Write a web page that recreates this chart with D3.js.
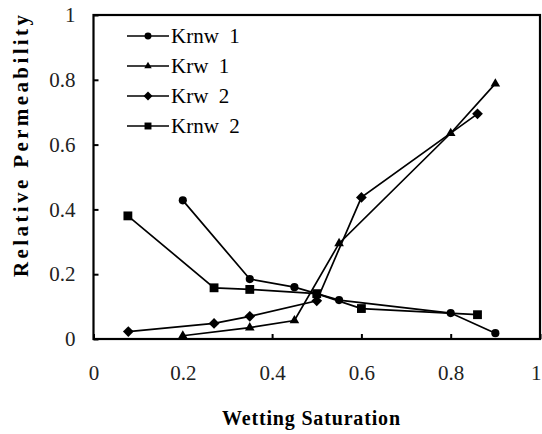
<!DOCTYPE html>
<html>
<head>
<meta charset="utf-8">
<script src="https://cdn.jsdelivr.net/npm/d3@7"></script>
<style>
  body { margin: 0; background: #fff; }
</style>
</head>
<body>
<div id="chart"></div>
<script>
// Data
const krnw1X = [0.2, 0.35, 0.45, 0.55, 0.8, 0.9];
const krnw1Y = [0.428, 0.185, 0.16, 0.12, 0.08, 0.018];
const krw1X = [0.2, 0.35, 0.45, 0.55, 0.8, 0.9];
const krw1Y = [0.01, 0.035, 0.057, 0.295, 0.635, 0.788];
const krw2X = [0.078, 0.27, 0.35, 0.5, 0.6, 0.86];
const krw2Y = [0.023, 0.048, 0.07, 0.118, 0.437, 0.695];
const krnw2X = [0.077, 0.27, 0.35, 0.5, 0.6, 0.86];
const krnw2Y = [0.38, 0.158, 0.153, 0.14, 0.094, 0.075];
const seriesNames = ["Krnw  1", "Krw  1", "Krw  2", "Krnw  2"];
const xTicks = [0, 0.2, 0.4, 0.6, 0.8, 1];
const yTicks = [0, 0.2, 0.4, 0.6, 0.8, 1];

const width = 542, height = 434;
const plotLeft = 93.5, plotRight = 540, plotTop = 15, plotBottom = 339;
const serif = "'Liberation Serif', 'Times New Roman', 'DejaVu Serif', serif";

const svg = d3.select("#chart").append("svg")
    .attr("width", width)
    .attr("height", height)
    .style("font-family", serif);

const x = d3.scaleLinear().domain([0, 1]).range([plotLeft, plotRight]);
const y = d3.scaleLinear().domain([0, 1]).range([plotBottom, plotTop]);

// Axes with inward ticks
const yAxis = svg.append("g")
    .attr("transform", `translate(${plotLeft},0)`)
    .call(d3.axisLeft(y).tickValues(yTicks).tickSize(-5).tickPadding(18)
        .tickFormat(d3.format("~g")));
const xAxis = svg.append("g")
    .attr("transform", `translate(0,${plotBottom})`)
    .call(d3.axisBottom(x).tickValues(xTicks).tickSize(-5).tickPadding(26)
        .tickFormat(d3.format("~g")));

[yAxis, xAxis].forEach(g => {
    g.attr("font-family", null);
    g.select(".domain").remove();
    g.selectAll(".tick line").attr("stroke", "#000").attr("stroke-width", 2);
    g.selectAll(".tick text")
        .style("font-family", serif)
        .attr("font-size", 21)
        .attr("fill", "#222");
});
// last x label sits on the right edge, keep it inside the page
xAxis.selectAll(".tick text").filter(d => d === 1).attr("text-anchor", "end").attr("dx", 1);

// Frame
svg.append("rect")
    .attr("x", plotLeft).attr("y", plotTop)
    .attr("width", plotRight - plotLeft).attr("height", plotBottom - plotTop)
    .attr("fill", "none").attr("stroke", "#000").attr("stroke-width", 2.2);

// Symbols
const symbols = [
    { type: d3.symbolCircle, size: 52, rot: 0, legSize: 38 },
    { type: d3.symbolTriangle, size: 40, rot: 0, legSize: 24 },
    { type: d3.symbolSquare, size: 58, rot: 45, legSize: 40 },
    { type: d3.symbolSquare, size: 78, rot: 0, legSize: 48 }
];

const allSeries = [
    d3.zip(krnw1X, krnw1Y),
    d3.zip(krw1X, krw1Y),
    d3.zip(krw2X, krw2Y),
    d3.zip(krnw2X, krnw2Y)
];

const line = d3.line().x(d => x(d[0])).y(d => y(d[1]));

allSeries.forEach((data, i) => {
    const s = symbols[i];
    svg.append("path")
        .datum(data)
        .attr("d", line)
        .attr("fill", "none")
        .attr("stroke", "#000")
        .attr("stroke-width", 1.7);
    svg.append("g").selectAll("path")
        .data(data)
        .enter()
        .append("path")
        .attr("d", d3.symbol().type(s.type).size(s.size))
        .attr("transform", d => `translate(${x(d[0])},${y(d[1])}) rotate(${s.rot})`)
        .attr("fill", "#000");
});

// Legend
const legend = svg.append("g");
seriesNames.forEach((name, i) => {
    const ly = 36 + i * 30;
    const s = symbols[i];
    legend.append("line")
        .attr("x1", 127).attr("x2", 169)
        .attr("y1", ly).attr("y2", ly)
        .attr("stroke", "#000").attr("stroke-width", 1.7);
    legend.append("path")
        .attr("d", d3.symbol().type(s.type).size(s.legSize))
        .attr("transform", `translate(148,${ly}) rotate(${s.rot})`)
        .attr("fill", "#000");
    legend.append("text")
        .attr("x", 171)
        .attr("y", ly + 7)
        .style("font-family", serif)
        .attr("font-size", 21)
        .style("white-space", "pre")
        .attr("fill", "#000")
        .text(name);
});

// Axis titles
svg.append("text")
    .attr("x", 311)
    .attr("y", 425)
    .attr("text-anchor", "middle")
    .style("font-family", serif)
    .attr("font-size", 20)
    .attr("font-weight", "bold")
    .attr("textLength", 178)
    .attr("lengthAdjust", "spacing")
    .text("Wetting Saturation");

svg.append("text")
    .attr("transform", "translate(28,146) rotate(-90)")
    .attr("text-anchor", "middle")
    .style("font-family", serif)
    .attr("font-size", 21)
    .attr("font-weight", "bold")
    .attr("textLength", 262)
    .attr("lengthAdjust", "spacing")
    .text("Relative Permeability");
</script>
</body>
</html>
